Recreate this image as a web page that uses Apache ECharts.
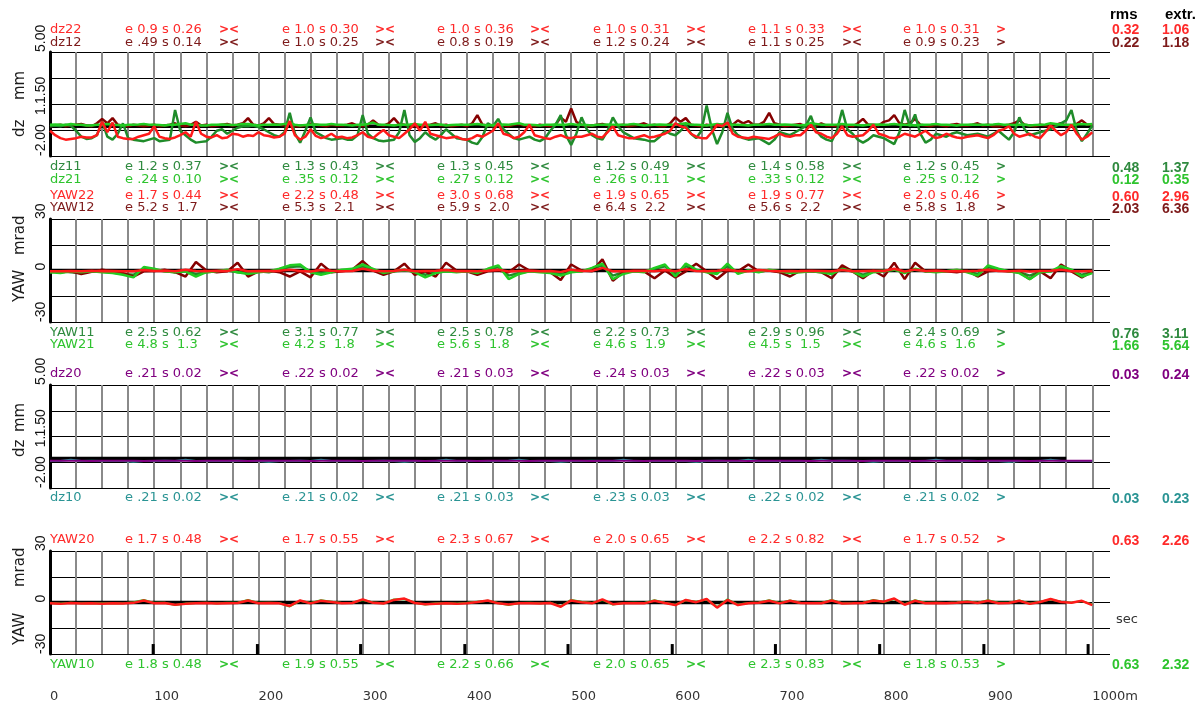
<!DOCTYPE html>
<html><head><meta charset="utf-8">
<script src="https://cdn.jsdelivr.net/npm/echarts@6/dist/echarts.min.js"></script>
<style>html,body{margin:0;padding:0;background:#fff}#c{width:1202px;height:706px}</style>
</head><body><div id="c"></div>
<script>
// ---------- DATA ----------
const distance10 = Array.from({length: 101}, (_, i) => i * 10); // sample positions (m)
const distance5 = Array.from({length: 201}, (_, i) => i * 5);   // sample positions (m)

// Panel 1 (dz, mm) - sampled every 5 m
const dz22 = [-0.3,-0.6,-0.8,-0.9,-0.85,-0.8,-0.7,-0.75,-0.75,-0.6,0.3,-0.4,0.25,-0.7,-0.8,-0.85,-0.85,-0.7,-0.6,-0.5,
  0.0,-0.7,-0.8,-0.85,-0.75,-0.6,-0.4,-0.7,0.3,-0.5,-0.7,-0.75,-0.6,-0.8,-0.75,-0.5,-0.55,-0.7,-0.6,-0.65,
  -0.4,-0.6,-0.65,-0.75,-0.7,-0.5,0.35,-0.6,-0.9,-0.7,-0.2,-0.65,-0.8,-0.7,-0.5,-0.75,-0.7,-0.8,-0.75,-0.6,
  -0.4,-0.7,-0.8,-0.5,-0.25,-0.6,-0.7,-0.8,-0.5,-0.2,0.2,-0.3,0.3,-0.5,-0.6,-0.7,-0.8,-0.75,-0.7,-0.85,
  -0.9,-0.8,-0.6,-0.7,-0.5,-0.3,0.2,-0.5,-0.6,-0.8,-0.7,-0.4,0.1,-0.6,-0.7,-0.8,-0.85,-0.7,-0.6,-0.75,
  -0.8,-0.7,-0.7,-0.6,-0.5,-0.7,-0.75,-0.4,0.0,-0.6,-0.7,-0.8,-0.8,-0.7,-0.6,-0.75,-0.7,-0.6,-0.5,-0.3,
  0.2,0.0,-0.1,-0.5,-0.7,-0.8,-0.8,-0.4,0.1,0.0,0.25,-0.5,-0.7,-0.75,-0.8,-0.7,-0.75,-0.8,-0.85,-0.7,
  -0.5,-0.65,-0.7,-0.6,-0.6,-0.3,0.1,-0.4,-0.5,-0.7,-0.8,-0.5,0.0,-0.6,-0.7,-0.65,-0.6,-0.3,0.1,-0.5,
  -0.6,-0.75,-0.8,-0.7,-0.5,-0.6,-0.7,-0.5,-0.3,-0.6,-0.8,-0.7,-0.5,-0.65,-0.75,-0.8,-0.7,-0.65,-0.6,-0.7,
  -0.8,-0.6,-0.3,-0.2,0.0,-0.5,-0.7,-0.6,-0.5,-0.7,-0.8,-0.4,0.05,-0.3,-0.6,-0.4,0.1,-0.5,-0.9,-0.7,
  -0.4];
const dz12 = [0.0,0.05,0.1,0.0,0.05,0.1,0.15,0.05,0.0,0.2,0.5,0.2,0.55,0.1,0.05,0.0,0.1,0.05,0.0,0.05,
  0.1,0.0,0.05,0.1,0.2,0.05,0.0,0.1,0.3,0.05,0.1,0.0,0.05,0.1,0.15,0.05,0.1,0.2,0.55,0.1,
  0.05,0.2,0.55,0.15,0.1,0.05,0.2,0.0,0.0,0.05,0.15,0.1,0.05,0.0,0.1,0.05,0.05,0.1,0.2,0.05,
  0.0,0.1,0.4,0.1,0.05,0.2,0.55,0.15,0.1,0.0,0.0,0.05,0.05,0.1,0.2,0.05,0.1,0.0,0.05,0.1,
  0.0,0.2,0.75,0.1,0.05,0.0,0.1,0.05,0.0,0.1,0.15,0.05,0.05,0.0,0.1,0.05,0.0,0.1,0.6,0.3,
  1.2,0.3,0.1,0.0,0.05,0.1,0.15,0.05,0.0,0.05,0.1,0.0,0.05,0.1,0.2,0.05,0.1,0.0,0.0,0.2,
  0.6,0.3,0.55,0.1,0.05,0.0,0.1,0.05,0.0,0.1,0.2,0.1,0.4,0.2,0.35,0.1,0.1,0.3,0.9,0.2,
  0.1,0.0,0.05,0.1,0.15,0.0,0.0,0.05,0.2,0.05,0.05,0.0,0.1,0.05,0.0,0.2,0.5,0.1,0.1,0.05,
  0.3,0.4,0.75,0.2,0.1,0.2,0.5,0.1,0.05,0.0,0.1,0.05,0.0,0.1,0.15,0.05,0.05,0.1,0.2,0.05,
  0.1,0.0,0.0,0.05,0.1,0.2,0.4,0.1,0.05,0.0,0.1,0.05,0.0,0.1,0.2,0.05,0.05,0.15,0.4,0.1,
  0.1];
const dz11 = [0.0,0.05,0.0,0.1,0.05,-0.3,-0.7,-0.85,-0.8,-0.6,0.3,-0.7,-0.9,-0.5,0.2,-0.8,-0.9,-0.95,-1.0,-0.9,
  -0.8,-1.0,-0.95,-0.9,1.1,-0.3,-0.6,-0.9,-1.1,-1.05,-1.0,-0.7,-0.3,-0.2,-0.5,-0.3,-0.1,0.0,0.0,0.05,
  -0.05,-0.2,-0.4,-0.6,-0.7,-0.4,0.9,-0.5,-1.1,-0.3,0.6,-0.4,-0.6,-0.8,-0.9,-0.85,-0.8,-0.9,-0.9,-0.6,
  0.75,-0.5,-0.8,-0.95,-1.0,-0.95,-0.9,-0.4,1.1,-0.6,-1.05,-0.8,-0.4,-0.7,-0.9,-0.6,-0.2,-0.5,-0.8,-0.85,
  -0.9,-1.1,-1.2,-0.7,0.2,0.0,0.5,-0.2,-0.5,-0.8,-0.9,-0.8,-0.7,-0.9,-1.0,-0.8,-0.3,0.1,0.75,-0.6,
  -1.25,-0.5,0.6,-0.2,-0.6,-0.8,-0.9,-0.3,0.6,0.0,-0.4,-0.6,-0.8,-0.85,-0.9,-1.0,-1.0,-0.7,-0.3,-0.5,
  -0.6,-0.3,0.1,-0.5,-0.8,-0.3,1.4,-0.2,-1.2,-0.4,0.9,-0.2,-0.6,-0.8,-0.9,-0.85,-0.8,-1.0,-1.2,-0.9,
  -0.4,-0.5,-0.6,-0.4,-0.2,0.0,0.7,-0.3,-0.7,-0.9,-1.0,-0.3,1.1,-0.2,-0.5,-0.9,-1.1,-0.9,-0.6,-0.7,
  -0.8,-1.0,-1.2,-0.4,1.1,0.0,0.8,-0.5,-1.1,-0.9,-0.5,-0.6,-0.7,-0.5,-0.4,-0.5,-0.6,-0.55,-0.5,-0.6,
  -0.7,-0.5,-0.3,-0.6,-0.9,-0.4,0.6,-0.2,-0.6,-0.5,-0.4,-0.3,-0.2,0.0,0.2,0.4,1.1,-0.3,-1.0,-0.5,
  0.05];
const dz21 = [0.1,0.12,0.1,0.08,0.15,0.1,0.1,0.05,0.05,0.1,0.1,0.15,0.1,0.08,0.05,0.1,0.1,0.12,0.15,0.1,
  0.1,0.08,0.05,0.1,0.1,0.15,0.2,0.1,0.1,0.05,0.05,0.1,0.1,0.12,0.1,0.08,0.1,0.15,0.15,0.1,
  0.05,0.1,0.1,0.12,0.1,0.15,0.2,0.1,0.05,0.08,0.1,0.12,0.1,0.1,0.15,0.1,0.1,0.08,0.05,0.1,
  0.1,0.15,0.25,0.1,0.1,0.08,0.05,0.1,0.1,0.12,0.15,0.1,0.1,0.08,0.1,0.12,0.05,0.08,0.1,0.1,
  0.1,0.12,0.15,0.1,0.05,0.08,0.1,0.12,0.1,0.15,0.2,0.1,0.1,0.08,0.05,0.1,0.1,0.12,0.1,0.1,
  0.15,0.1,0.1,0.08,0.05,0.1,0.1,0.12,0.1,0.1,0.1,0.12,0.15,0.1,0.05,0.08,0.1,0.12,0.1,0.1,
  0.1,0.15,0.2,0.1,0.1,0.08,0.05,0.1,0.15,0.12,0.1,0.1,0.1,0.08,0.05,0.1,0.1,0.12,0.15,0.1,
  0.1,0.12,0.1,0.08,0.05,0.1,0.2,0.15,0.1,0.1,0.1,0.12,0.15,0.1,0.1,0.08,0.05,0.1,0.1,0.12,
  0.1,0.12,0.15,0.1,0.1,0.08,0.05,0.1,0.1,0.12,0.15,0.1,0.1,0.08,0.05,0.1,0.1,0.12,0.1,0.1,
  0.1,0.12,0.15,0.1,0.1,0.08,0.1,0.12,0.05,0.08,0.1,0.12,0.2,0.15,0.1,0.1,0.1,0.12,0.15,0.12,
  0.15];

// Panel 2 (YAW, mrad) - sampled every 10 m
const yaw22 = [-0.5,-0.5,-0.3,-0.5,-0.2,-0.4,-0.3,-0.5,-0.4,0.3,
  -0.3,-0.2,-0.4,0.5,-0.3,-0.5,-0.2,-0.3,0.8,-0.4,
  -0.3,-0.5,-0.2,0.5,-0.3,-0.6,0.3,-0.2,-0.4,-0.3,
  1.0,-0.2,-0.4,-0.3,0.5,-0.5,-0.3,-0.2,0.3,-0.4,
  -0.3,-0.5,-0.2,0.5,-0.6,-0.3,-0.2,-0.4,-0.3,-0.8,
  0.5,-0.3,-0.2,1.5,-0.5,-0.4,-0.3,-0.2,-0.5,0.3,
  -0.4,0.8,-0.3,-0.5,-0.2,0.5,-0.3,-0.4,0.3,-0.2,
  -0.4,-0.3,-0.5,-0.2,-0.3,-0.4,0.3,-0.5,-0.3,-0.2,
  -0.3,1.0,-0.6,0.5,-0.3,-0.2,-0.4,-0.3,-0.5,-0.2,
  0.5,-0.3,-0.4,-0.2,-0.6,-0.3,-0.2,0.5,-0.4,-0.5,
  -0.3];
const yaw12 = [-0.5,-1.0,-0.5,-2.0,-0.8,0.5,-0.5,-1.5,-3.5,-0.5,
  -0.3,0.5,-1.0,-3.5,5.0,0.0,-1.0,-0.5,4.5,-3.5,
  -0.5,0.0,-1.0,-3.5,-0.5,-4.0,4.0,-1.0,-0.5,0.5,
  5.5,0.0,-2.5,-0.5,4.0,-2.5,-0.5,-3.5,4.5,0.0,
  -0.5,-2.5,-0.5,0.0,-1.0,3.5,0.0,-0.5,-1.0,-5.5,
  3.5,0.0,-0.5,6.5,-6.0,-1.0,0.0,-0.5,-4.5,0.0,
  -4.0,-0.5,4.0,-0.5,-5.0,0.0,-0.5,3.5,-0.5,0.0,
  -1.0,-3.5,0.0,-0.5,-1.0,-4.5,3.0,-0.5,-4.5,0.0,
  -3.5,4.5,-5.0,4.5,-0.5,0.0,-0.5,-1.0,0.0,-3.5,
  -0.5,0.0,-0.5,-1.0,-5.0,-0.5,-4.5,3.5,-0.5,-4.0,
  -0.5];
const yaw11 = [-1.0,-0.5,-1.0,-1.5,-0.5,-0.8,-1.2,-2.0,-2.5,1.0,
  0.5,-0.5,-1.0,-0.5,-2.0,-1.0,-0.5,0.0,-1.0,-1.5,
  -0.5,-1.0,0.5,2.0,2.5,-0.5,-1.5,-0.5,0.0,0.5,
  2.5,0.5,-1.0,-0.5,0.0,-0.5,-2.5,-1.0,-0.5,-0.8,
  -0.5,-1.0,0.5,2.0,-3.0,-1.5,-0.5,-0.5,-1.0,-2.0,
  -0.5,-0.5,1.0,3.0,-3.0,-1.0,-0.5,-0.5,1.0,2.5,
  -2.0,2.5,0.0,-0.5,-1.5,2.5,-1.0,0.0,-0.5,0.0,
  -0.5,-1.0,-0.5,-0.5,-0.5,-1.5,0.5,-0.5,-2.5,-0.5,
  0.0,0.5,-1.0,0.5,-0.5,-0.5,-0.5,0.0,-0.5,-2.0,
  2.0,0.5,-0.5,-1.0,-3.0,-0.5,-0.5,1.5,0.0,-2.5,
  -1.0];
const yaw21 = [-1.0,-1.5,-0.5,-1.0,-0.5,-1.0,-1.5,-2.5,-4.0,2.0,
  1.0,-0.5,-1.0,-0.5,-3.5,-1.0,-0.5,0.5,-1.0,-2.0,
  -1.0,-0.5,1.0,3.0,3.5,-1.0,-2.5,-1.0,0.5,1.0,
  3.5,1.0,-1.5,-0.5,0.5,-1.0,-4.0,-1.5,-0.5,-1.0,
  -0.5,-1.5,1.0,3.0,-5.0,-2.0,-0.5,-1.0,-1.5,-3.0,
  -1.0,-0.5,1.5,4.0,-5.0,-2.0,-0.5,-1.0,1.5,3.5,
  -3.5,4.0,0.5,-1.0,-2.0,4.0,-2.0,0.0,-1.0,0.5,
  -0.5,-1.5,-1.0,-0.5,-1.0,-2.0,1.0,-0.5,-3.5,-1.0,
  -0.5,0.5,-1.5,1.0,-0.5,-1.0,-0.5,0.5,-1.0,-3.0,
  3.0,1.0,-0.5,-1.5,-5.0,-1.0,-0.5,2.5,0.5,-3.5,
  -1.5];

// Panel 3 (dz, mm)
const dz20 = [-0.15,-0.15,-0.14,-0.15,-0.16,-0.15,-0.15,-0.14,-0.15,-0.16,
  -0.15,-0.14,-0.15,-0.15,-0.16,-0.15,-0.14,-0.15,-0.15,-0.16,
  -0.15,-0.15,-0.14,-0.15,-0.15,-0.16,-0.15,-0.14,-0.15,-0.15,
  -0.16,-0.15,-0.15,-0.14,-0.15,-0.15,-0.16,-0.15,-0.14,-0.15,
  -0.15,-0.16,-0.15,-0.15,-0.14,-0.15,-0.16,-0.15,-0.15,-0.14,
  -0.15,-0.15,-0.16,-0.15,-0.14,-0.15,-0.15,-0.16,-0.15,-0.15,
  -0.14,-0.15,-0.16,-0.15,-0.15,-0.14,-0.15,-0.16,-0.15,-0.15,
  -0.14,-0.15,-0.15,-0.16,-0.15,-0.14,-0.15,-0.15,-0.16,-0.15,
  -0.15,-0.14,-0.15,-0.16,-0.15,-0.15,-0.14,-0.15,-0.15,-0.16,
  -0.15,-0.15,-0.14,-0.15,-0.16,-0.15,-0.15,-0.14,-0.15,-0.15,
  -0.15];
const dz10 = [-0.16,-0.16,-0.08,-0.16,-0.15,-0.17,-0.16,-0.16,-0.22,-0.16,
  -0.16,-0.15,-0.16,-0.08,-0.16,-0.17,-0.16,-0.16,-0.15,-0.16,
  -0.16,-0.22,-0.16,-0.16,-0.15,-0.16,-0.08,-0.16,-0.17,-0.16,
  -0.16,-0.16,-0.15,-0.16,-0.22,-0.16,-0.16,-0.16,-0.08,-0.16,
  -0.16,-0.17,-0.16,-0.16,-0.15,-0.08,-0.16,-0.16,-0.16,-0.22,
  -0.16,-0.16,-0.15,-0.16,-0.16,-0.08,-0.16,-0.17,-0.16,-0.16,
  -0.16,-0.16,-0.22,-0.16,-0.15,-0.16,-0.16,-0.08,-0.16,-0.16,
  -0.17,-0.16,-0.16,-0.16,-0.08,-0.16,-0.15,-0.16,-0.16,-0.22,
  -0.16,-0.16,-0.16,-0.17,-0.16,-0.08,-0.16,-0.16,-0.15,-0.16,
  -0.16,-0.16,-0.22,-0.16,-0.16,-0.16,-0.08,-0.16,-0.16,-0.16,
  -0.16];

// Panel 4 (YAW, mrad)
const yaw20 = [-0.5,-0.8,-0.3,-0.6,-0.4,-0.7,-0.5,-0.6,-0.2,1.2,
  -0.4,-0.3,-1.3,-0.8,-0.5,-0.3,-0.6,-0.4,-0.3,1.2,
  -0.4,-0.3,-0.5,-2.0,1.2,-0.5,1.0,0.3,-0.5,-0.3,
  1.8,-0.2,-0.6,1.5,2.3,-0.3,-1.0,-0.7,-0.5,-0.8,
  -0.4,0.3,1.2,-0.5,-1.2,-0.5,-0.4,-0.6,-0.3,-2.5,
  1.2,0.2,-0.5,1.8,-1.0,-0.5,-0.4,-0.5,1.0,-0.3,
  -1.5,1.5,0.2,2.0,-3.0,1.5,-1.5,-0.5,-0.2,1.0,
  -0.5,1.0,-0.3,-0.5,-0.4,1.2,-0.6,-0.5,-0.3,1.2,
  0.5,2.3,-1.3,1.0,-0.4,-0.3,-0.5,-0.2,0.5,-0.3,
  1.0,-0.4,-0.3,1.0,-0.8,0.3,2.0,0.3,-0.2,1.0,
  -1.5];
const yaw10 = [-0.3,-0.6,-0.2,-0.5,-0.3,-0.5,-0.3,-0.4,0.2,1.5,
  -0.2,-0.1,-1.5,-0.6,-0.3,-0.2,-0.4,-0.2,-0.1,1.5,
  -0.2,-0.1,-0.3,-2.3,1.0,-0.3,1.3,0.5,-0.3,-0.1,
  1.5,0.0,-0.4,1.8,2.0,-0.1,-1.2,-0.5,-0.3,-0.6,
  -0.2,0.5,1.0,-0.3,-1.4,-0.3,-0.2,-0.4,-0.1,-2.2,
  1.5,0.4,-0.3,1.5,-1.2,-0.3,-0.2,-0.3,1.3,-0.1,
  -1.3,1.3,0.5,1.8,-2.7,1.8,-1.2,-0.3,0.0,1.3,
  -0.3,1.2,-0.1,-0.3,-0.2,1.5,-0.4,-0.3,-0.1,1.5,
  0.3,2.0,-1.0,1.3,-0.2,-0.1,-0.3,0.0,0.8,-0.1,
  1.3,-0.2,-0.1,1.2,-0.6,0.5,1.7,0.5,0.0,0.8,
  -1.2];

// black reference lines (level, end distance) per panel
const refLevel = [0, 0, 0, 0];
const refEnd = [1000, 1000, 975, 975];

// time markers (m) shown in the last panel
const secMarks = [99, 199, 298, 398, 497, 597, 696, 796, 896, 996];

// tick labels
const dzTickValues = [5, 3.25, 1.5, -0.25, -2];
const dzTickLabels = ['5.00', '', '1.50', '1.', '-2.00'];
const yawTickValues = [30, 15, 0, -15, -30];
const yawTickLabels = ['30', '', '0', '', '-30'];
const xTickValues = [0, 100, 200, 300, 400, 500, 600, 700, 800, 900, 1000];
const xTickLabels = ['0', '100', '200', '300', '400', '500', '600', '700', '800', '900', '1000m'];

// statistics text rows
const statNames = ['dz22','dz12','dz11','dz21','YAW22','YAW12','YAW11','YAW21','dz20','dz10','YAW20','YAW10'];
const statSegments = [
  ['e 0.9 s 0.26','e 1.0 s 0.30','e 1.0 s 0.36','e 1.0 s 0.31','e 1.1 s 0.33','e 1.0 s 0.31'],
  ['e .49 s 0.14','e 1.0 s 0.25','e 0.8 s 0.19','e 1.2 s 0.24','e 1.1 s 0.25','e 0.9 s 0.23'],
  ['e 1.2 s 0.37','e 1.3 s 0.43','e 1.3 s 0.45','e 1.2 s 0.49','e 1.4 s 0.58','e 1.2 s 0.45'],
  ['e .24 s 0.10','e .35 s 0.12','e .27 s 0.12','e .26 s 0.11','e .33 s 0.12','e .25 s 0.12'],
  ['e 1.7 s 0.44','e 2.2 s 0.48','e 3.0 s 0.68','e 1.9 s 0.65','e 1.9 s 0.77','e 2.0 s 0.46'],
  ['e 5.2 s  1.7','e 5.3 s  2.1','e 5.9 s  2.0','e 6.4 s  2.2','e 5.6 s  2.2','e 5.8 s  1.8'],
  ['e 2.5 s 0.62','e 3.1 s 0.77','e 2.5 s 0.78','e 2.2 s 0.73','e 2.9 s 0.96','e 2.4 s 0.69'],
  ['e 4.8 s  1.3','e 4.2 s  1.8','e 5.6 s  1.8','e 4.6 s  1.9','e 4.5 s  1.5','e 4.6 s  1.6'],
  ['e .21 s 0.02','e .22 s 0.02','e .21 s 0.03','e .24 s 0.03','e .22 s 0.03','e .22 s 0.02'],
  ['e .21 s 0.02','e .21 s 0.02','e .21 s 0.03','e .23 s 0.03','e .22 s 0.02','e .21 s 0.02'],
  ['e 1.7 s 0.48','e 1.7 s 0.55','e 2.3 s 0.67','e 2.0 s 0.65','e 2.2 s 0.82','e 1.7 s 0.52'],
  ['e 1.8 s 0.48','e 1.9 s 0.55','e 2.2 s 0.66','e 2.0 s 0.65','e 2.3 s 0.83','e 1.8 s 0.53']
];
const segmentMarks = ['><','><','><','><','><','>'];
const statRms = ['0.32','0.22','0.48','0.12','0.60','2.03','0.76','1.66','0.03','0.03','0.63','0.63'];
const statExtr = ['1.06','1.18','1.37','0.35','2.96','6.36','3.11','5.64','0.24','0.23','2.26','2.32'];

// ---------- STYLE / LAYOUT ----------
const C = {
  red: '#ff1a1a', maroon: '#850000', dkgreen: '#1f8c2a', green: '#22cc22',
  purple: '#800080', teal: '#2a9a9a', black: '#000000'
};
const rowColor = ['#ff2a2a','#7d1a1a','#2f8a3f','#2ec42e','#ff2a2a','#7d1a1a','#2f8a3f','#2ec42e','#800080','#2a9494','#ff2a2a','#2ec42e'];
const rowY = [29.5, 42.5, 167, 179.5, 196, 208, 333, 345, 374, 498, 540, 664.5];
const colE = [125, 282, 437, 593, 748, 903];
const colMark = [219, 375, 530, 686, 842, 996];
const grids = [
  {top: 52, height: 104}, {top: 219, height: 103}, {top: 385, height: 103}, {top: 551, height: 103}
];
const FONT = '"DejaVu Sans", "Liberation Sans", sans-serif';
const TICKFONT = '"Liberation Sans", Arial, sans-serif';
const MARK_HEIGHT = 5.8;

const pairs = vals => {
  const d = vals.length === 201 ? distance5 : distance10;
  return vals.map((v, i) => [d[i], v]);
};

function line(xi, vals, color, width) {
  return {type: 'line', xAxisIndex: xi, yAxisIndex: xi, data: pairs(vals), symbol: 'none',
    lineStyle: {color, width}, itemStyle: {color}, silent: true, animation: false};
}
function refLine(xi) {
  return {type: 'line', xAxisIndex: xi, yAxisIndex: xi,
    data: [[0, refLevel[xi]], [refEnd[xi], refLevel[xi]]], symbol: 'none',
    lineStyle: {color: C.black, width: 3.5}, silent: true, animation: false};
}

function xAxis(i) {
  return {
    type: 'value', gridIndex: i, min: 0, max: 1017, interval: 25,
    axisLine: {show: false, onZero: false}, axisTick: {show: false},
    splitLine: {show: true, showMaxLine: false, lineStyle: {color: '#8a8a8a', width: 2}},
    axisLabel: i === 3 ? {
      show: true, margin: 36, align: 'left', color: '#333', fontFamily: FONT, fontSize: 13,
      formatter: v => { const k = xTickValues.indexOf(v); return k < 0 ? '' : xTickLabels[k]; }
    } : {show: false}
  };
}
const shiftRich = {s15: {padding: [0, 0, 0, 15], fontFamily: TICKFONT, fontSize: 14, color: '#111'}};
const dzShift = [0, 0, 0, 15, 0];
function yAxis(i, kind) {
  const isDz = kind === 'dz';
  const vals = isDz ? dzTickValues : yawTickValues;
  const labs = isDz ? dzTickLabels : yawTickLabels;
  return {
    type: 'value', gridIndex: i,
    min: isDz ? -2 : -30, max: isDz ? 5 : 30, interval: isDz ? 1.75 : 15,
    axisLine: {show: true, lineStyle: {color: '#000', width: 3}},
    axisTick: {show: false},
    splitLine: {show: true, lineStyle: {color: '#000', width: 1}},
    axisLabel: {
      show: true, rotate: 90, align: 'left', margin: 2, color: '#111',
      fontFamily: TICKFONT, fontSize: 14, rich: shiftRich,
      formatter: v => {
        const k = vals.findIndex(t => Math.abs(t - v) < 1e-6);
        if (k < 0) return '';
        const sh = isDz ? dzShift[k] : 0;
        return sh ? '{s' + sh + '|' + labs[k] + '}' : labs[k];
      }
    }
  };
}

function text(x, y, str, color, font, extra) {
  return Object.assign({type: 'text', x, y, silent: true, z: 100,
    style: {text: str, fill: color, font, align: 'left', verticalAlign: 'middle',
      textAlign: 'left', textVerticalAlign: 'middle'}}, extra || {});
}

const graphics = [];
statNames.forEach((name, r) => {
  const y = rowY[r], col = rowColor[r];
  graphics.push(text(50, y, name, col, '13px ' + FONT));
  statSegments[r].forEach((s, k) => {
    graphics.push(text(colE[k], y, s, col, '13px ' + FONT));
    graphics.push(text(colMark[k], y, segmentMarks[k], col, 'bold 12px ' + FONT));
  });
  graphics.push(text(1112, y + 1, statRms[r], col, 'bold 14px "Liberation Sans", Arial, sans-serif'));
  graphics.push(text(1162, y + 1, statExtr[r], col, 'bold 14px "Liberation Sans", Arial, sans-serif'));
});
graphics.push(text(1110, 15, 'rms', '#000', 'bold 15px "Liberation Sans", Arial, sans-serif'));
graphics.push(text(1165, 15, 'extr.', '#000', 'bold 15px "Liberation Sans", Arial, sans-serif'));
graphics.push(text(1116, 620, 'sec', '#333', '13px ' + FONT));

// rotated axis names
const axisNames = [
  {str: 'dz', y: 137}, {str: 'mm', y: 100},
  {str: 'YAW', y: 302}, {str: 'mrad', y: 255},
  {str: 'dz', y: 457}, {str: 'mm', y: 432},
  {str: 'YAW', y: 645}, {str: 'mrad', y: 587}
];
axisNames.forEach(a => graphics.push(text(20, a.y, a.str, '#1a1a1a', '15px ' + FONT, {rotation: Math.PI / 2})));

const chart = echarts.init(document.getElementById('c'), null, {renderer: 'canvas'});
chart.setOption({
  animation: false,
  backgroundColor: '#ffffff',
  grid: grids.map(g => ({left: 50, right: 92, top: g.top, height: g.height, containLabel: false, outerBoundsMode: 'none'})),
  xAxis: [0, 1, 2, 3].map(xAxis),
  yAxis: [yAxis(0, 'dz'), yAxis(1, 'yaw'), yAxis(2, 'dz'), yAxis(3, 'yaw')],
  series: [
    refLine(0), line(0, dz12, C.maroon, 2.5), line(0, dz11, C.dkgreen, 2.5), line(0, dz21, C.green, 2.5), line(0, dz22, C.red, 2.5),
    refLine(1), line(1, yaw11, C.dkgreen, 2.5), line(1, yaw12, C.maroon, 2.5), line(1, yaw21, C.green, 2.5), line(1, yaw22, C.red, 2.5),
    refLine(2), line(2, dz10, C.teal, 2), line(2, dz20, C.purple, 2),
    refLine(3), line(3, yaw10, C.green, 2), line(3, yaw20, C.red, 2.5),
    {
      type: 'custom', xAxisIndex: 3, yAxisIndex: 3, silent: true, animation: false,
      data: secMarks.map(v => [v, -30]), encode: {x: 0, y: 1},
      renderItem: (params, api) => {
        const p0 = api.coord([api.value(0), api.value(1)]);
        const p1 = api.coord([api.value(0), api.value(1) + MARK_HEIGHT]);
        return {type: 'rect', shape: {x: p0[0] - 1.5, y: p1[1], width: 3, height: p0[1] - p1[1]}, style: {fill: '#000'}};
      }
    }
  ],
  graphic: {elements: graphics}
});
</script></body></html>
